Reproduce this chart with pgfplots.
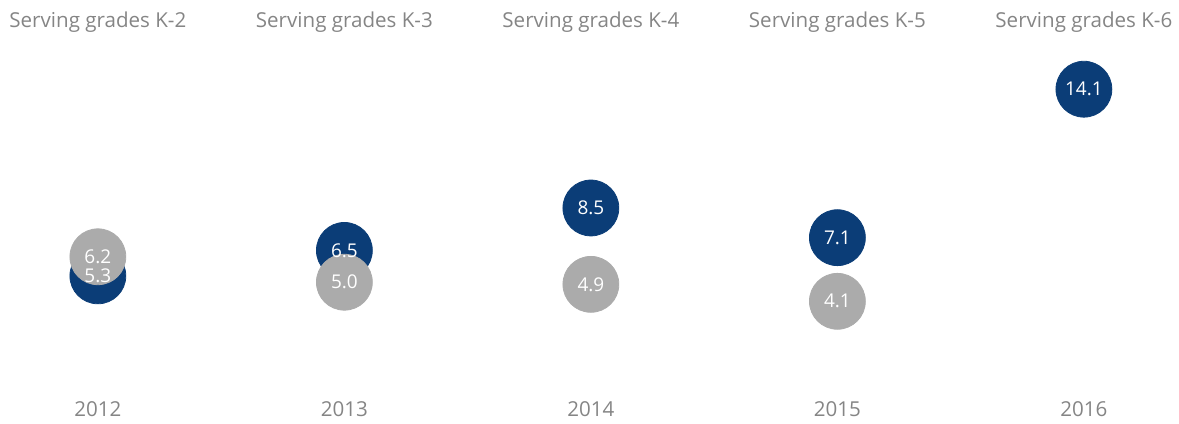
\documentclass[border=0pt]{standalone}
\usepackage{pgfplots}
\pgfplotsset{compat=1.18}
\usepackage{fontspec}
\setmainfont{Open Sans}
\definecolor{navy}{HTML}{0B3D77}
\definecolor{dotgray}{HTML}{ABABAB}
\definecolor{txtgray}{HTML}{858585}
\begin{document}
\begin{tikzpicture}
\begin{axis}[
 width=589.5pt, height=211pt, scale only axis,
 xmin=-0.397, xmax=4.377, ymin=-1.553, ymax=18.306,
 hide axis, clip=false,
 /pgf/number format/assume math mode=true,
]
\addplot[only marks, mark=*, mark size=14pt, color=navy] coordinates {(0,5.3)(1,6.5)(2,8.5)(3,7.1)(4,14.1)};
\addplot[only marks, mark=*, mark size=14pt, color=dotgray] coordinates {(0,6.2)(1,5.0)(2,4.9)(3,4.1)};
\addplot[draw=none, mark=none, nodes near coords, point meta=explicit symbolic, nodes near coords align=center,
  every node near coord/.append style={white, font=\fontsize{9.5}{11}\selectfont, anchor=center}]
  coordinates {(0,5.3)[5.3] (1,6.5)[6.5] (2,8.5)[8.5] (3,7.1)[7.1] (4,14.1)[14.1]};
\addplot[draw=none, mark=none, nodes near coords, point meta=explicit symbolic, nodes near coords align=center,
  every node near coord/.append style={white, font=\fontsize{9.5}{11}\selectfont, anchor=center}]
  coordinates {(0,6.2)[6.2] (1,5.0)[5.0] (2,4.9)[4.9] (3,4.1)[4.1]};
\node[txtgray, font=\fontsize{10.3}{12}\selectfont] at (axis cs:0,17.27) {Serving grades K-2};
\node[txtgray, font=\fontsize{10.3}{12}\selectfont] at (axis cs:1,17.27) {Serving grades K-3};
\node[txtgray, font=\fontsize{10.3}{12}\selectfont] at (axis cs:2,17.27) {Serving grades K-4};
\node[txtgray, font=\fontsize{10.3}{12}\selectfont] at (axis cs:3,17.27) {Serving grades K-5};
\node[txtgray, font=\fontsize{10.3}{12}\selectfont] at (axis cs:4,17.27) {Serving grades K-6};
\node[txtgray, font=\fontsize{10.3}{12}\selectfont] at (axis cs:0,-0.99) {2012};
\node[txtgray, font=\fontsize{10.3}{12}\selectfont] at (axis cs:1,-0.99) {2013};
\node[txtgray, font=\fontsize{10.3}{12}\selectfont] at (axis cs:2,-0.99) {2014};
\node[txtgray, font=\fontsize{10.3}{12}\selectfont] at (axis cs:3,-0.99) {2015};
\node[txtgray, font=\fontsize{10.3}{12}\selectfont] at (axis cs:4,-0.99) {2016};
\end{axis}
\useasboundingbox (current axis.south west) rectangle (current axis.north east);
\end{tikzpicture}
\end{document}
